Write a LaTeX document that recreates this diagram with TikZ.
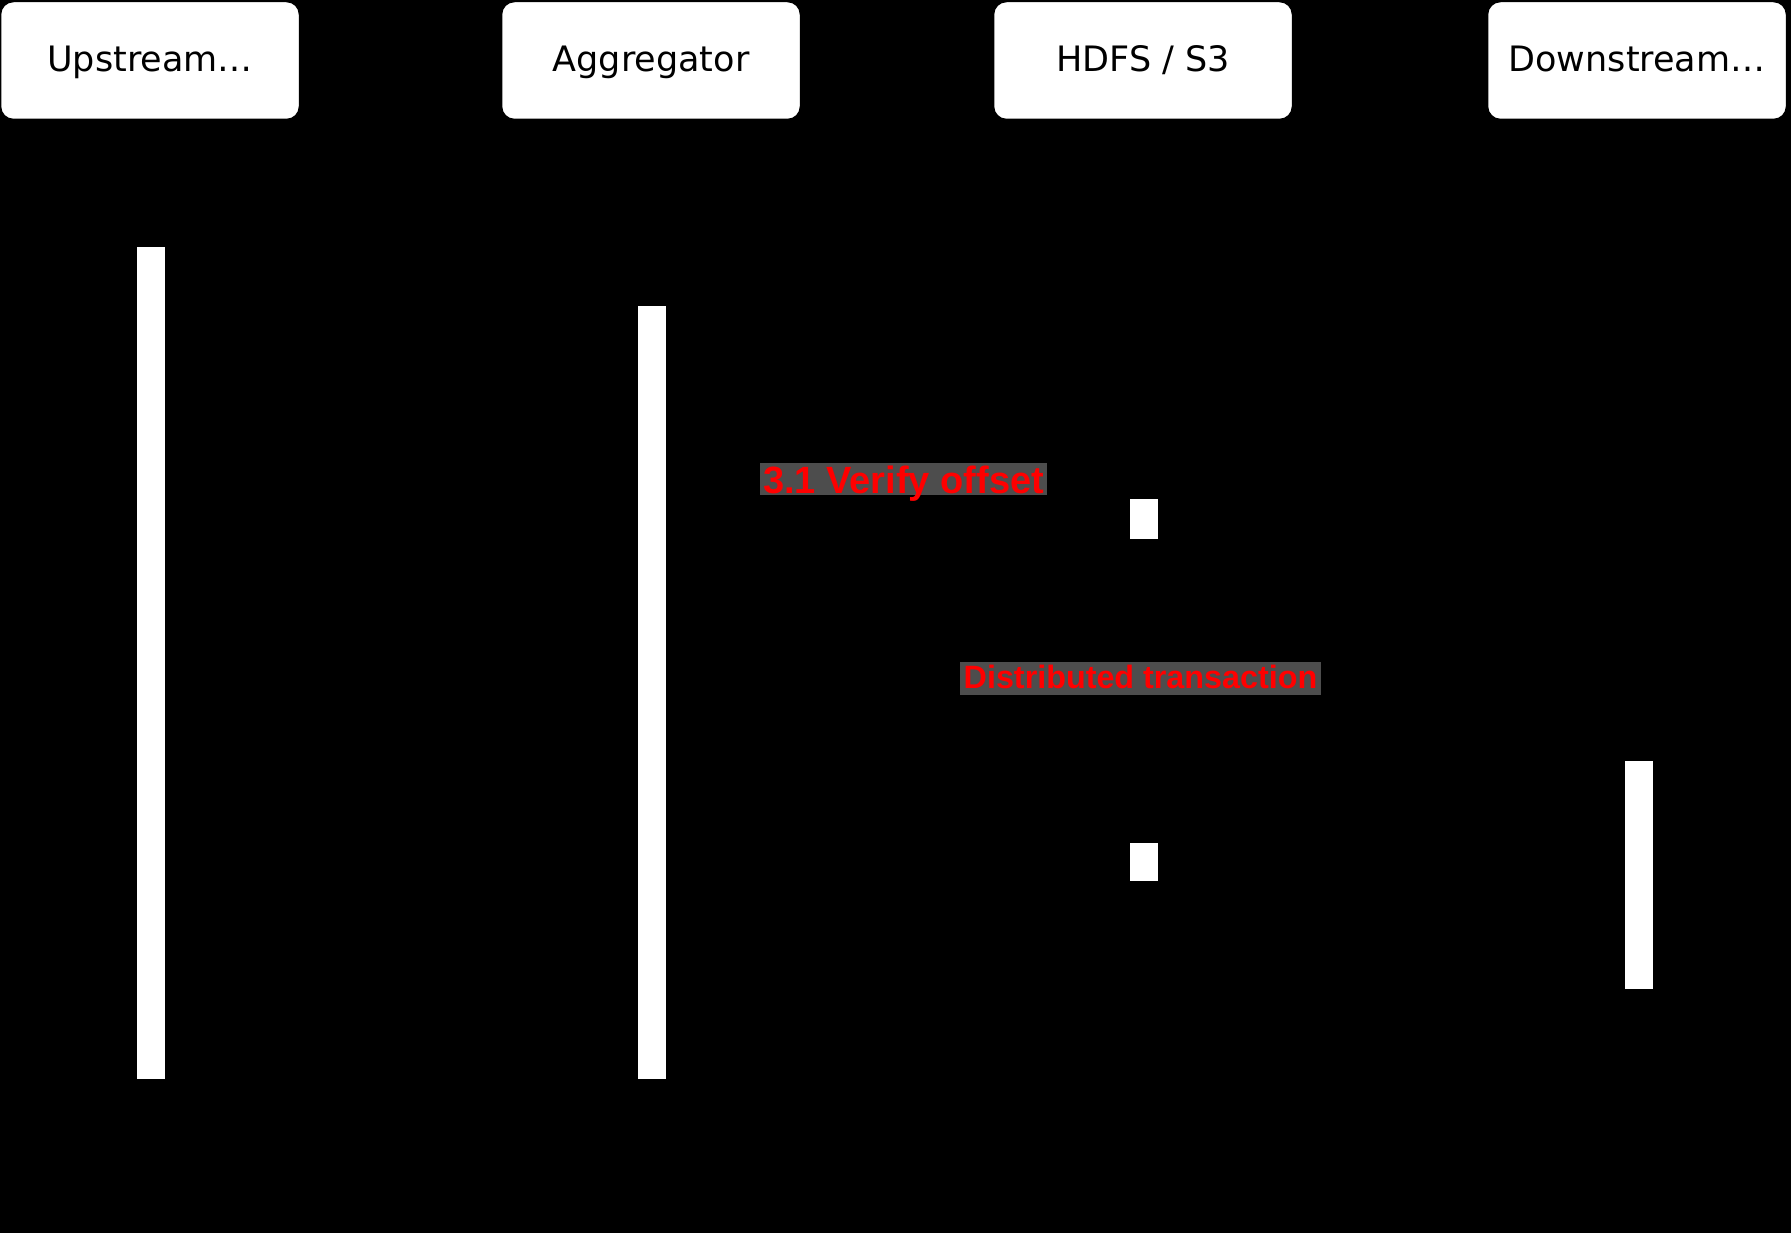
\documentclass[tikz,border=0pt]{standalone}
\usepackage{fontspec}
\setmainfont{DejaVu Sans}
\newfontfamily\labfont{Liberation Sans}
\definecolor{labgray}{RGB}{77,77,77}
\definecolor{labred}{RGB}{255,0,0}
\begin{document}
\begin{tikzpicture}[x=1pt,y=-1pt,
  actor/.style={draw=black, line width=1.5pt, fill=white, rounded corners=13pt,
    minimum width=299pt, minimum height=118pt, inner sep=0pt,
    text height=23pt, text depth=0pt,
    font=\fontsize{35}{42}\selectfont},
  actbar/.style={draw=black, line width=1.5pt, fill=white, inner sep=0pt,
    minimum width=29.5pt},
  rednote/.style={fill=labgray, text=labred, inner xsep=1pt, inner ysep=0pt}]
\fill[black] (0,0) rectangle (1791,1233);
\useasboundingbox (0,0) rectangle (1791,1233);

% lifeline heads
\node[actor] (up)   at (150,60.5)  {Upstream…};
\node[actor] (agg)  at (651,60.5)  {Aggregator};
\node[actor] (hdfs) at (1143,60.5) {HDFS / S3};
\node[actor] (down) at (1637,60.5) {Downstream…};

% activation bars
\node[actbar, minimum height=833.5pt] (upbar)   at (151,663)    {};
\node[actbar, minimum height=774.5pt] (aggbar)  at (651.5,692.5) {};
\node[actbar, minimum height=41.5pt]  (hbarA)   at (1143.5,519) {};
\node[actbar, minimum height=39.5pt]  (hbarB)   at (1143.5,862) {};
\node[actbar, minimum height=229.5pt] (downbar) at (1639,875)   {};

% red notes
\node[rednote, minimum width=287pt, text height=30pt, text depth=2pt,
  font=\labfont\bfseries\fontsize{38}{44}\selectfont] (verify) at (903.5,479)
  {3.1 Verify offset};
\node[rednote, minimum width=361pt, text height=26pt, text depth=7pt,
  font=\labfont\bfseries\fontsize{32.3}{38}\selectfont] (dtx) at (1140.5,678.5)
  {Distributed transaction};
\end{tikzpicture}
\end{document}
